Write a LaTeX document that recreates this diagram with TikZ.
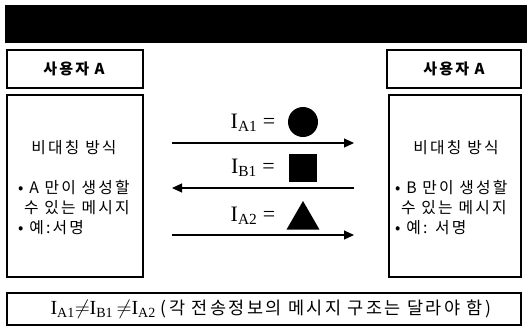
\documentclass[tikz,border=0pt]{standalone}
\usepackage{fontspec}
\setmainfont{Liberation Serif}
\newfontfamily\kr[LetterSpace=14]{Noto Sans CJK KR}
\usetikzlibrary{arrows.meta,shapes.geometric}
\begin{document}
\begin{tikzpicture}[x=1pt,y=-1pt,
  box/.style={draw,line width=1.1pt,inner sep=0pt},
  krt/.style={font=\kr\fontsize{15.8}{18}\selectfont,inner sep=0pt},
  hdr/.style={font=\kr\bfseries\fontsize{15}{18}\selectfont,inner sep=0pt},
  msg/.style={line width=1.1pt,-{Triangle[length=10pt,width=9pt]}},
  lab/.style={font=\fontsize{22}{24}\selectfont,anchor=center},
  sym/.style={fill=black,draw=none}]
\useasboundingbox (0,0) rectangle (527,333);
\fill[black] (5,5) rectangle (527,43);
% headers
\draw[box] (7,50) rectangle (143,88);
\node[hdr] (ha) at (74,69) {사용자 A};
\draw[box] (387,50) rectangle (521,88);
\node[hdr] (hb) at (454,69) {사용자 A};
% main boxes
\draw[box] (7,95) rectangle (143,277);
\draw[box] (389,95) rectangle (521,277);
\node[krt] (ta) at (74,148) {비대칭 방식};
\node[krt,anchor=west] (la1) at (18,188) {• A 만이 생성할};
\node[krt,anchor=west] (la2) at (24,208) {수 있는 메시지};
\node[krt,anchor=west] (la3) at (18,228) {• 예:서명};
\node[krt] (tb) at (456,148) {비대칭 방식};
\node[krt,anchor=west] (lb1) at (395,188) {• B 만이 생성할};
\node[krt,anchor=west] (lb2) at (401,208) {수 있는 메시지};
\node[krt,anchor=west] (lb3) at (395,228) {• 예: 서명};
% arrows
\coordinate (a1s) at (172,143); \coordinate (a1e) at (354,143);
\coordinate (a2s) at (354,188); \coordinate (a2e) at (172,188);
\coordinate (a3s) at (172,235); \coordinate (a3e) at (354,235);
\draw[msg] (a1s) -- (a1e);
\draw[msg] (a2s) -- (a2e);
\draw[msg] (a3s) -- (a3e);
% labels
\node[lab] (l1) at (253,123) {I\textsubscript{A1} =};
\node[lab] (l2) at (253,168) {I\textsubscript{B1} =};
\node[lab] (l3) at (253,216) {I\textsubscript{A2} =};
\node[sym,circle,minimum size=30pt] (c) at (303,122) {};
\node[sym,rectangle,minimum size=28pt] (s) at (303,168) {};
\node[sym,regular polygon,regular polygon sides=3,minimum size=38pt,inner sep=0pt] (t) at (303,220) {};
% bottom
\draw[box] (7,293) rectangle (521,325);
\node[inner sep=0pt] (bt) at (271,309) {\fontsize{20}{22}\selectfont I\textsubscript{A1}$\neq$I\textsubscript{B1}\,$\neq$I\textsubscript{A2} {\kr\fontsize{17.5}{19}\selectfont (각 전송정보의 메시지 구조는 달라야 함)}};
\end{tikzpicture}
\end{document}
